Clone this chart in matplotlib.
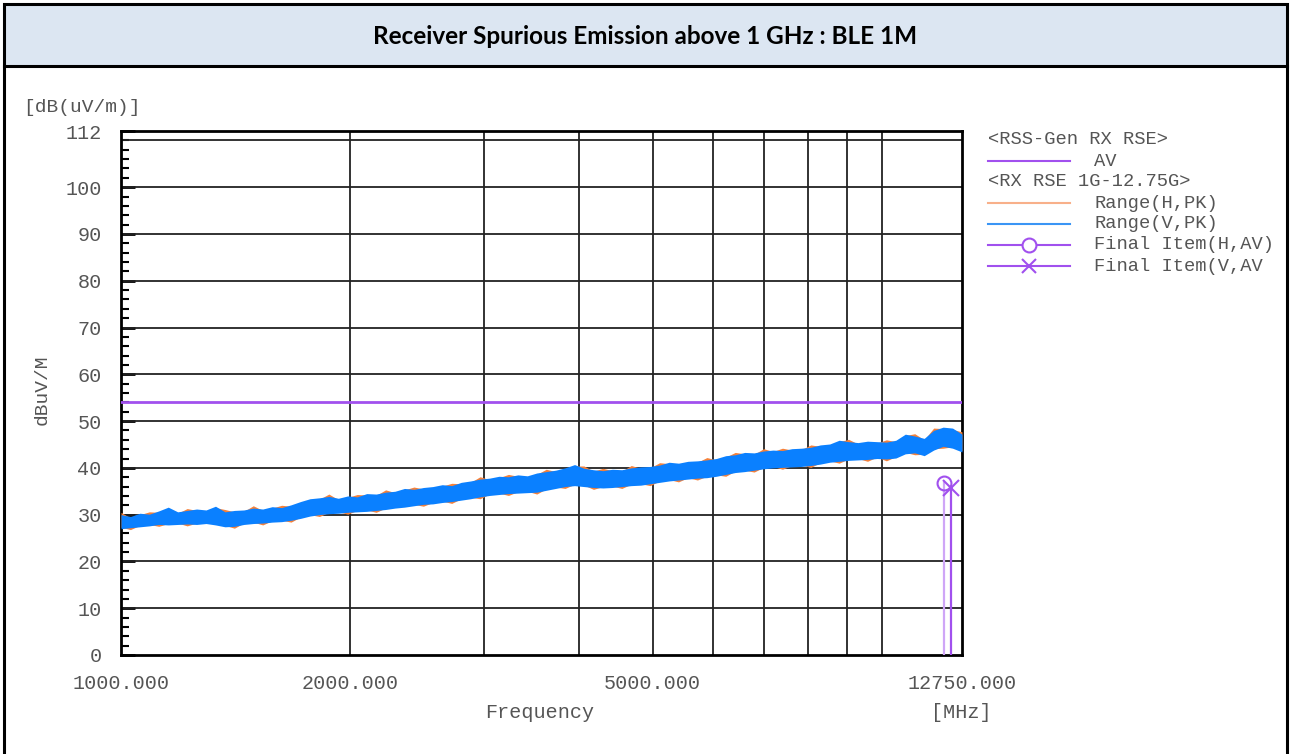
import numpy as np
import matplotlib.pyplot as plt
from matplotlib.lines import Line2D
from matplotlib.patches import Rectangle

# sweep points of the receiver scan, 1 GHz .. 12.75 GHz
n_pts = 90
freq = np.geomspace(1000, 12750, n_pts)

# Range(V,PK) envelope (upper / lower edge of the trace)
v_upper = [30.0, 29.6, 30.3, 30.1, 30.8, 31.6, 30.6, 30.9, 31.2, 31.0,
           31.8, 30.6, 30.9, 31.0, 31.4, 31.2, 31.7, 31.5, 32.1, 32.8,
           33.4, 33.6, 33.9, 33.5, 34.0, 33.8, 34.5, 34.4, 34.8, 35.0,
           35.6, 35.4, 35.8, 36.0, 36.4, 36.2, 36.9, 37.2, 37.6, 37.8,
           38.2, 38.1, 38.5, 38.3, 38.9, 39.2, 39.5, 40.0, 40.7, 39.9,
           39.6, 39.4, 39.7, 39.6, 40.0, 40.2, 40.3, 40.6, 41.2, 41.0,
           41.4, 41.5, 41.7, 42.0, 42.6, 42.8, 43.3, 43.2, 43.6, 43.8,
           43.7, 44.1, 44.2, 44.4, 44.9, 45.1, 45.9, 45.6, 45.4, 45.7,
           45.6, 45.5, 45.9, 47.2, 46.8, 46.3, 48.0, 48.7, 48.5, 47.2]
v_lower = [27.0, 27.2, 27.4, 27.6, 27.9, 27.8, 27.9, 28.0, 27.9, 28.1,
           27.8, 27.4, 27.5, 27.9, 28.1, 28.2, 28.4, 28.5, 28.8, 29.2,
           29.7, 30.0, 30.2, 30.3, 30.5, 30.6, 30.7, 30.9, 31.1, 31.4,
           31.6, 31.9, 32.2, 32.3, 32.6, 32.8, 33.1, 33.4, 33.8, 34.1,
           34.3, 34.5, 34.6, 34.7, 34.8, 35.2, 35.6, 36.0, 36.2, 36.0,
           35.8, 35.7, 35.8, 36.0, 36.2, 36.3, 36.6, 36.9, 37.2, 37.4,
           37.6, 37.8, 37.9, 38.2, 38.6, 39.0, 39.2, 39.5, 39.8, 40.0,
           40.1, 40.2, 40.3, 40.5, 40.8, 41.2, 41.4, 41.6, 41.7, 41.8,
           42.0, 41.9, 42.1, 43.0, 43.2, 42.6, 43.8, 44.6, 44.2, 43.4]

# Range(H,PK) envelope
h_upper = [30.5, 29.3, 30.0, 30.6, 30.5, 31.3, 30.3, 31.3, 30.9, 30.7,
           31.5, 31.1, 30.6, 30.7, 31.9, 30.9, 31.4, 32.0, 31.8, 32.5,
           33.1, 33.3, 34.4, 33.2, 33.7, 34.3, 34.2, 34.1, 35.3, 34.7,
           35.3, 35.9, 35.5, 35.7, 36.1, 36.7, 36.6, 36.9, 38.1, 37.5,
           37.9, 38.6, 38.2, 38.0, 38.6, 39.7, 39.2, 39.7, 40.4, 40.4,
           39.3, 39.9, 39.4, 39.3, 40.5, 39.9, 40.0, 41.1, 40.9, 40.7,
           41.1, 41.2, 42.2, 41.7, 42.3, 43.3, 43.0, 42.9, 44.1, 43.5,
           44.2, 43.8, 43.9, 44.9, 44.6, 44.8, 45.6, 46.1, 45.1, 45.4,
           45.3, 46.0, 45.6, 46.9, 47.3, 46.0, 48.5, 48.4, 48.2, 47.7]
h_lower = [27.3, 26.8, 27.7, 27.9, 27.5, 28.1, 28.2, 27.6, 28.2, 28.4,
           28.1, 27.7, 27.1, 28.2, 28.4, 27.8, 28.7, 28.8, 28.4, 29.5,
           30.0, 29.6, 30.5, 30.6, 30.1, 30.9, 31.0, 30.5, 31.4, 31.7,
           31.9, 32.2, 31.8, 32.6, 32.9, 32.4, 33.4, 33.7, 33.4, 34.4,
           34.6, 34.1, 34.9, 35.0, 34.4, 35.5, 35.9, 35.6, 36.5, 36.3,
           35.4, 36.0, 36.1, 35.6, 36.5, 36.6, 36.2, 37.2, 37.5, 37.0,
           37.9, 37.4, 38.2, 38.5, 38.2, 39.3, 39.5, 39.1, 40.1, 40.3,
           39.7, 40.5, 40.6, 40.1, 41.1, 41.5, 41.0, 41.9, 42.0, 41.4,
           42.3, 41.5, 42.4, 43.3, 42.8, 42.9, 44.1, 44.2, 44.5, 43.7]

limit_av = 54.0
final_h = (12073, 36.7)
final_v = (12330, 35.6)

title = 'Receiver Spurious Emission above 1 GHz : BLE 1M'
x_ticks = [1000, 2000, 5000, 12750]
x_ticklabels = ['1000.000', '2000.000', '5000.000', '12750.000']
y_ticks = [0, 10, 20, 30, 40, 50, 60, 70, 80, 90, 100, 112]

legend_rows = ['<RSS-Gen RX RSE>', 'AV', '<RX RSE 1G-12.75G>', 'Range(H,PK)',
               'Range(V,PK)', 'Final Item(H,AV)', 'Final Item(V,AV']

c_orange = '#f5813a'
c_blue = '#0a80ff'
c_purple = '#a150ee'
c_purple_lt = '#cfa6f7'
c_text = '#555555'
mono = 'Liberation Mono'

W, H = 1290, 754
fig = plt.figure(figsize=(W / 100, H / 100), dpi=100)

def fx(px):
    return px / W

def fy(py):
    return 1 - py / H

# frame and header
fig.add_artist(Rectangle((fx(4), fy(66)), fx(1283), fy(4) - fy(66), transform=fig.transFigure,
                         facecolor='#dce6f2', edgecolor='black', lw=2.2))
fig.add_artist(Line2D([fx(4), fx(4)], [fy(66), 0], transform=fig.transFigure, color='black', lw=2.2))
fig.add_artist(Line2D([fx(1287), fx(1287)], [fy(66), 0], transform=fig.transFigure, color='black', lw=2.2))
fig.text(fx(645), fy(36), title, ha='center', va='center', fontsize=17.5,
         fontweight='bold', family='Lato')

ax = fig.add_axes([fx(121), fy(655), fx(962) - fx(121), fy(131) - fy(655)])
ax.set_xscale('log')
ax.set_xlim(1000, 12750)
ax.set_ylim(0, 112)

# traces
ax.fill_between(freq, h_lower, h_upper, color=c_orange, lw=0, zorder=3)
ax.fill_between(freq, v_lower, v_upper, color=c_blue, lw=0, zorder=4)
ax.axhline(limit_av, color=c_purple, lw=2, zorder=5)

# final items
ax.plot([final_h[0], final_h[0]], [0, final_h[1]], color=c_purple_lt, lw=1.6, zorder=5)
ax.plot([final_v[0], final_v[0]], [0, final_v[1]], color=c_purple, lw=1.6, zorder=5)
ax.plot(final_h[0], final_h[1], 'o', ms=10, mfc='none', mec=c_purple, mew=1.5, zorder=6)
ax.plot(final_v[0], final_v[1], 'x', ms=11, mec=c_purple, mew=1.5, zorder=6)

# grid
for f in [2000, 3000, 4000, 5000, 6000, 7000, 8000, 9000, 10000]:
    ax.axvline(f, color='#222222', lw=1.3, zorder=2)
for v in range(10, 111, 10):
    ax.axhline(v, color='#222222', lw=1.3, zorder=2)

ax.set_xticks(x_ticks)
ax.set_xticklabels(x_ticklabels)
ax.xaxis.set_minor_locator(plt.NullLocator())
ax.tick_params(axis='x', length=0, pad=14, labelsize=14.5, labelcolor=c_text)
ax.set_yticks(y_ticks)
ax.set_yticks(np.arange(0, 112, 2), minor=True)
ax.tick_params(axis='y', which='major', direction='in', length=10, width=2,
               pad=14, labelsize=14.5, labelcolor=c_text)
ax.tick_params(axis='y', which='minor', direction='in', length=6, width=1.5)
for lab in ax.get_xticklabels() + ax.get_yticklabels():
    lab.set_family(mono)
for s in ax.spines.values():
    s.set_linewidth(2)

fig.text(fx(82), fy(108), '[dB(uV/m)]', ha='center', va='center', fontsize=14,
         family=mono, color=c_text)
fig.text(fx(42), fy(390), 'dBuV/M', ha='center', va='center', fontsize=14,
         family=mono, color=c_text, rotation=90)
fig.text(fx(540), fy(713), 'Frequency', ha='center', va='center', fontsize=14.5,
         family=mono, color=c_text)
fig.text(fx(961), fy(713), '[MHz]', ha='center', va='center', fontsize=14.5,
         family=mono, color=c_text)

# legend drawn beside the plot
row_y = [140, 161, 182, 203, 224, 245, 266]
handles = [None, dict(color=c_purple), None, dict(color='#f8b08a'),
           dict(color='#3a95f5'), dict(color=c_purple, marker='o'),
           dict(color=c_purple, marker='x')]
for txt, ry, hd in zip(legend_rows, row_y, handles):
    if hd is None:
        fig.text(fx(988), fy(ry), txt, ha='left', va='center', fontsize=13.5,
                 family=mono, color=c_text)
        continue
    fig.add_artist(Line2D([fx(988), fx(1070)], [fy(ry), fy(ry)], transform=fig.transFigure,
                          color=hd['color'], lw=1.5))
    if 'marker' in hd:
        fig.add_artist(Line2D([fx(1029)], [fy(ry)], transform=fig.transFigure,
                              marker=hd['marker'], ms=10, mfc='white', mec=hd['color'],
                              mew=1.5, ls='none'))
    fig.text(fx(1094), fy(ry), txt, ha='left', va='center', fontsize=13.5,
             family=mono, color=c_text)

fig.savefig('out.png', dpi=100)
